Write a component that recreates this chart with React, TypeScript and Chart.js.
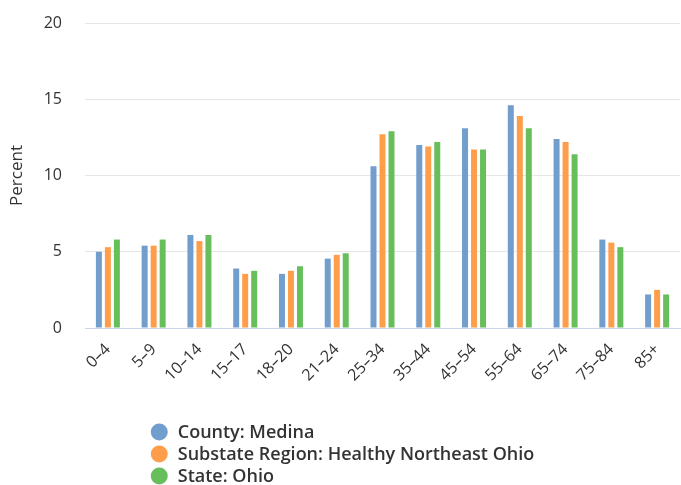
import React, { useEffect, useRef } from "react";
import { Chart, registerables } from "chart.js";

Chart.register(...registerables);

const categories = ["0–4", "5–9", "10–14", "15–17", "18–20", "21–24", "25–34", "35–44", "45–54", "55–64", "65–74", "75–84", "85+"];
const countyMedina = [5.0, 5.4, 6.1, 3.9, 3.55, 4.55, 10.6, 12.0, 13.1, 14.6, 12.4, 5.8, 2.2];
const substateRegion = [5.3, 5.4, 5.7, 3.55, 3.75, 4.8, 12.7, 11.9, 11.7, 13.9, 12.2, 5.6, 2.5];
const stateOhio = [5.8, 5.8, 6.1, 3.75, 4.05, 4.9, 12.9, 12.2, 11.7, 13.1, 11.4, 5.3, 2.2];
const seriesLabels = ["County: Medina", "Substate Region: Healthy Northeast Ohio", "State: Ohio"];
const seriesColors = ["#729ECE", "#FF9E4A", "#67BF5C"];
const yTicks = [0, 5, 10, 15, 20];

const FONT = "'Open Sans', 'DejaVu Sans', sans-serif";

const legendPlugin = {
  id: "stackedLegend",
  afterDraw(chart: any) {
    const ctx = chart.ctx;
    const datasets = chart.data.datasets;
    ctx.save();
    ctx.font = `600 18px ${FONT}`;
    let maxW = 0;
    datasets.forEach((d: any) => {
      maxW = Math.max(maxW, ctx.measureText(d.label).width);
    });
    const r = 8.5;
    const gap = 10;
    const blockW = r * 2 + gap + maxW;
    const startX = (chart.width - blockW) / 2 + 2;
    const baseY = chart.chartArea.bottom + 104;
    datasets.forEach((d: any, i: number) => {
      const y = baseY + i * 22;
      ctx.beginPath();
      ctx.fillStyle = d.backgroundColor;
      ctx.arc(startX + r, y, r, 0, Math.PI * 2);
      ctx.fill();
      ctx.fillStyle = "#333333";
      ctx.textAlign = "left";
      ctx.textBaseline = "middle";
      ctx.fillText(d.label, startX + r * 2 + gap, y + 1);
    });
    ctx.restore();
  },
};

export default function App() {
  const ref = useRef<HTMLCanvasElement>(null);
  useEffect(() => {
    if (!ref.current) return;
    const series = [countyMedina, substateRegion, stateOhio];
    const chart = new Chart(ref.current, {
      type: "bar",
      data: {
        labels: categories,
        datasets: series.map((s, i) => ({
          label: seriesLabels[i],
          data: s,
          backgroundColor: seriesColors[i],
          borderWidth: 0,
          categoryPercentage: 0.59,
          barPercentage: 0.667,
        })),
      },
      options: {
        responsive: false,
        animation: false,
        layout: { padding: { top: 23, right: 1, bottom: 77, left: 0 } },
        plugins: {
          legend: { display: false },
          tooltip: { enabled: false },
        },
        scales: {
          x: {
            grid: { display: false },
            border: { display: true, color: "#ccd6eb", width: 1 },
            ticks: {
              autoSkip: false,
              minRotation: 45,
              maxRotation: 45,
              padding: 4,
              color: "#333333",
              font: { family: FONT, size: 16 },
            },
            afterFit(scale: any) {
              scale.height = 80;
            },
          },
          y: {
            min: 0,
            max: 20,
            afterBuildTicks(scale: any) {
              scale.ticks = yTicks.map((v) => ({ value: v }));
            },
            grid: {
              color: "#e6e6e6",
              drawTicks: true,
              tickLength: 23,
              tickColor: "rgba(0,0,0,0)",
              lineWidth: 1,
            },
            border: { display: false },
            ticks: {
              padding: 0,
              color: "#333333",
              font: { family: FONT, size: 16 },
            },
            title: {
              display: true,
              text: "Percent",
              color: "#333333",
              font: { family: FONT, size: 17 },
              padding: { top: 7, bottom: 4 },
            },
            afterFit(scale: any) {
              scale.width = 85;
            },
          },
        },
      },
      plugins: [legendPlugin],
    });
    return () => chart.destroy();
  }, []);
  return (
    <div style={{ position: "absolute", left: 0, top: 0, width: 681, height: 485, background: "#fff" }}>
      <canvas ref={ref} width={681} height={485} style={{ display: "block" }} />
    </div>
  );
}
